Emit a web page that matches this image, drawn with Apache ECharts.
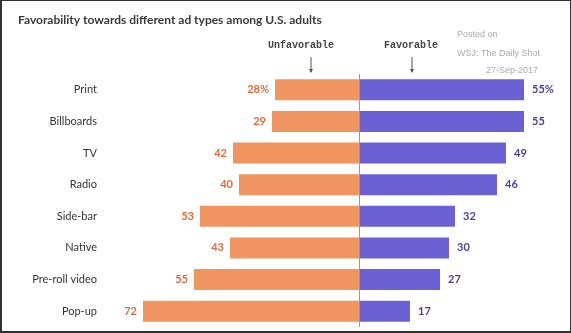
<!DOCTYPE html>
<html><head><meta charset="utf-8">
<script src="https://cdn.jsdelivr.net/npm/echarts@6/dist/echarts.min.js"></script>
<style>
html,body{margin:0;padding:0;background:#fff;}
#wrap{width:571px;height:333px;box-sizing:border-box;border:1px solid #333;border-left-width:2px;border-bottom-width:2px;position:relative;overflow:hidden;}
#chart{width:571px;height:333px;position:absolute;left:-2px;top:-1px;}
</style></head>
<body><div id="wrap"><div id="chart"></div></div>
<script>
const categories = ['Print','Billboards','TV','Radio','Side-bar','Native','Pre-roll video','Pop-up'];
const unfavorable = [28,29,42,40,53,43,55,72];
const favorable = [55,55,49,46,32,30,27,17];

const chart = echarts.init(document.getElementById('chart'));
const FONT = 'Lato, "Noto Sans", sans-serif';
chart.setOption({
  animation:false,
  textStyle:{fontFamily:FONT},
  title:{text:'Favorability towards different ad types among U.S. adults',left:13,top:9,
    textStyle:{fontSize:12,fontWeight:'bold',color:'#3a3a3a',fontFamily:FONT}},
  grid:{left:104,right:32,top:74,bottom:6,containLabel:false},
  xAxis:{type:'value',min:-85,max:60,show:false,splitLine:{show:false}},
  yAxis:{type:'category',data:categories,inverse:true,
    axisLine:{show:false},axisTick:{show:false},
    axisLabel:{color:'#333',fontSize:11,margin:7,fontFamily:FONT}},
  series:[
    {name:'Unfavorable',type:'bar',stack:'t',barWidth:21,
     data:unfavorable.map(v=>-v),
     itemStyle:{color:'#f0955f'},
     label:{show:true,position:'left',distance:6,color:'#dd6b38',fontSize:11,fontWeight:'bold',fontFamily:FONT,
       formatter:p=>Math.abs(p.value)+(p.dataIndex===0?'%':'')},
     markLine:{silent:true,symbol:'none',label:{show:false},
       lineStyle:{color:'#999',width:1,type:'solid'},data:[{xAxis:0}]}
    },
    {name:'Favorable',type:'bar',stack:'t',barWidth:21,
     data:favorable,
     itemStyle:{color:'#6a62d4'},
     label:{show:true,position:'right',distance:8,color:'#4a3f9e',fontSize:11,fontWeight:'bold',fontFamily:FONT,
       formatter:p=>p.value+(p.dataIndex===0?'%':'')}
    }
  ],
  graphic:[
    {type:'text',left:268,top:40,style:{text:'Unfavorable',font:'bold 10px "Liberation Mono", "DejaVu Sans Mono", monospace',fill:'#444'}},
    {type:'text',left:384,top:40,style:{text:'Favorable',font:'bold 10px "Liberation Mono", "DejaVu Sans Mono", monospace',fill:'#444'}},
    {type:'line',shape:{x1:311,y1:57,x2:311,y2:72},style:{stroke:'#555',lineWidth:1}},
    {type:'polygon',shape:{points:[[309,69],[313,69],[311,73]]},style:{fill:'#555'}},
    {type:'line',shape:{x1:412,y1:57,x2:412,y2:72},style:{stroke:'#555',lineWidth:1}},
    {type:'polygon',shape:{points:[[410,69],[414,69],[412,73]]},style:{fill:'#555'}},
    {type:'text',left:457,top:30,style:{text:'Posted on',font:'9px "Liberation Sans", Arial, sans-serif',fill:'#aaa'}},
    {type:'text',left:457,top:49,style:{text:'WSJ: The Daily Shot',font:'9px "Liberation Sans", Arial, sans-serif',fill:'#aaa'}},
    {type:'text',right:33,top:66,style:{text:'27-Sep-2017',font:'9px "Liberation Sans", Arial, sans-serif',fill:'#aaa'}}
  ]
});
</script></body></html>
